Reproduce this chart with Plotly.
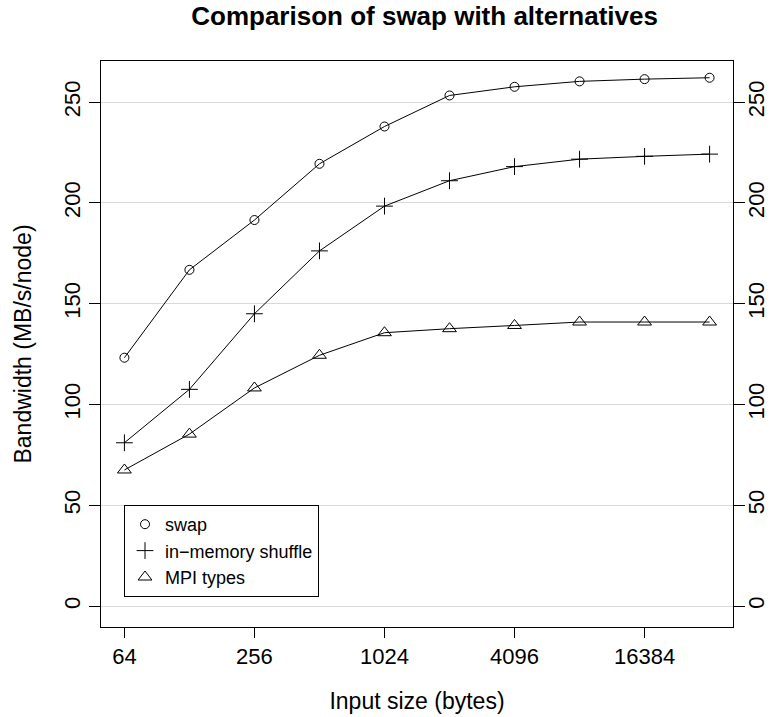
import plotly.graph_objects as go

# Input sizes (bytes) and measured bandwidth (MB/s/node)
sizes = [64, 128, 256, 512, 1024, 2048, 4096, 8192, 16384, 32768]
swap = [123.2, 166.8, 191.5, 219.4, 237.9, 253.3, 257.6, 260.3, 261.4, 262.1]
shuffle = [81.0, 107.5, 145.0, 176.2, 198.4, 211.0, 218.0, 221.7, 223.1, 224.2]
mpi_types = [67.5, 85.3, 108.2, 124.4, 135.6, 137.6, 139.2, 140.9, 140.9, 140.9]

series_names = ["swap", "in\u2212memory shuffle", "MPI types"]
x_ticks = [64, 256, 1024, 4096, 16384]
y_ticks = [0, 50, 100, 150, 200, 250]

FONT = "Liberation Sans, Arial, Helvetica, sans-serif"
symbols = ["circle-open", "cross-thin-open", "triangle-up-open"]
sym_sizes = [9, 12, 12]
TICK_SIZE = 22

fig = go.Figure()
for name, vals, sym, sz in zip(series_names, [swap, shuffle, mpi_types], symbols, sym_sizes):
    # connected series
    fig.add_trace(go.Scatter(
        x=sizes, y=vals, mode="lines+markers", name=name, showlegend=False,
        line=dict(color="black", width=1),
        marker=dict(symbol=sym, size=sz, color="black", line=dict(color="black", width=1)),
    ))
    # legend entry: symbol only
    fig.add_trace(go.Scatter(
        x=[None], y=[None], mode="markers", name=name, showlegend=True,
        marker=dict(symbol=sym, size=sz, color="black", line=dict(color="black", width=1)),
    ))

# right-hand axis mirroring the left one
fig.add_trace(go.Scatter(x=[None], y=[None], yaxis="y2", showlegend=False, hoverinfo="skip"))

L, R, T, B = 101, 39, 61, 90
W, H = 772, 717
y_range = [-10.4, 270.4]

fig.update_layout(
    width=W, height=H,
    margin=dict(l=L, r=R, t=T, b=B, autoexpand=False),
    paper_bgcolor="white", plot_bgcolor="white",
    font=dict(family=FONT, color="black", size=23),
    title=dict(
        text="<b>Comparison of swap with alternatives</b>",
        x=0.512, xref="paper", xanchor="center",
        y=1 - 16 / H, yref="container", yanchor="middle",
        font=dict(family=FONT, size=26, color="black"),
    ),
    xaxis=dict(
        type="log",
        range=[5.64 * 0.30103, 15.36 * 0.30103],
        tickvals=x_ticks, ticktext=[str(v) for v in x_ticks],
        ticks="outside", ticklen=10, tickwidth=1, tickcolor="black",
        showline=True, linecolor="black", linewidth=1, mirror=True,
        showgrid=False, zeroline=False, automargin=False,
        tickfont=dict(size=TICK_SIZE),
        title=dict(text="Input size (bytes)", font=dict(size=23), standoff=24),
    ),
    yaxis=dict(
        range=y_range,
        tickvals=y_ticks, ticktext=[str(v) for v in y_ticks],
        tickangle=-90,
        ticks="outside", ticklen=11, tickwidth=1, tickcolor="black",
        showline=True, linecolor="black", linewidth=1, mirror=True,
        showgrid=True, gridcolor="#d9d9d9", gridwidth=1, zeroline=False,
        automargin=False,
        tickfont=dict(size=TICK_SIZE),
        title=dict(text="Bandwidth (MB/s/node)", font=dict(size=23), standoff=22),
    ),
    yaxis2=dict(
        range=y_range, overlaying="y", side="right",
        tickvals=y_ticks, ticktext=[str(v) for v in y_ticks],
        tickangle=-90,
        ticks="outside", ticklen=11, tickwidth=1, tickcolor="black",
        ticklabelstandoff=-7,
        showline=False, showgrid=False, zeroline=False, automargin=False,
        tickfont=dict(size=TICK_SIZE),
    ),
    legend=dict(
        x=(124 - L) / (W - L - R), y=(H - B - 505) / (H - T - B),
        xanchor="left", yanchor="top",
        bgcolor="white", bordercolor="black", borderwidth=1,
        font=dict(family=FONT, size=18, color="black"),
        itemwidth=30, tracegroupgap=0,
    ),
    showlegend=True,
)

fig.write_html("out.html")
